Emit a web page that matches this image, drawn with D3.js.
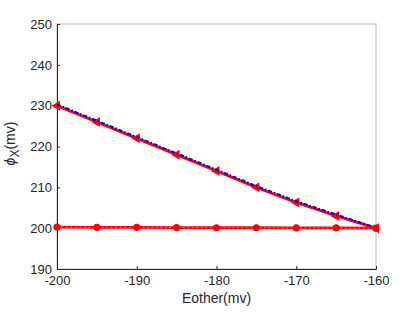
<!DOCTYPE html>
<html>
<head>
<meta charset="utf-8">
<script src="https://cdn.jsdelivr.net/npm/d3@7"></script>
<style>
body { margin:0; background:#fff; }
text { font-family: "Liberation Sans", Arial, sans-serif; }
</style>
</head>
<body>
<svg id="graph1"></svg>
<script>
var eother = [-200, -195, -190, -185, -180, -175, -170, -165, -160]
var phiTri = [230, 226, 222, 218, 214, 210, 206.3, 203, 200]
var phiBlue = [230.3, 226.3, 222.3, 218.3, 214.3, 210.3, 206.6, 203.3, 200.1]
var phiCirc = [200.25, 200.2, 200.2, 200.15, 200.1, 200.1, 200.05, 200.05, 200]
var xTicks = [-200, -190, -180, -170, -160]
var yTicks = [190, 200, 210, 220, 230, 240, 250]

var screen = {width:415, height:312}
var margins = {top:24, bottom:43, left:57, right:39}
var width = screen.width - margins.left - margins.right
var height = screen.height - margins.top - margins.bottom

var svg = d3.select("#graph1")
    .attr("width", screen.width)
    .attr("height", screen.height)

var g = svg.append("g")
    .attr("transform", "translate(" + margins.left + "," + margins.top + ")")

var xScale = d3.scaleLinear().domain([-200, -160]).range([0, width])
var yScale = d3.scaleLinear().domain([190, 250]).range([height, 0])

// box
g.append("rect")
    .attr("width", width).attr("height", height)
    .attr("fill", "none").attr("stroke", "#bdbdbd").attr("stroke-width", 1)

var fmt = function(d) { return String(d) }
var xAxis = d3.axisBottom(xScale).tickValues(xTicks).tickFormat(fmt).tickSizeInner(-3).tickSizeOuter(0).tickPadding(7)
var yAxis = d3.axisLeft(yScale).tickValues(yTicks).tickFormat(fmt).tickSizeInner(-3).tickSizeOuter(0).tickPadding(5)

g.append("g").attr("transform", "translate(0," + height + ")").call(xAxis)
g.append("g").call(yAxis)
g.selectAll(".domain").attr("stroke", "#262626")
g.selectAll(".tick line").attr("stroke", "#262626")
g.selectAll(".tick text").attr("fill", "#262626").style("font-size", "13px")

var pts = function(vals) { return eother.map(function(e, i) { return [e, vals[i]] }) }
var line = d3.line().x(function(d) { return xScale(d[0]) }).y(function(d) { return yScale(d[1]) })

// triangles series
g.append("path").datum(pts(phiTri))
    .attr("d", line).attr("fill", "none").attr("stroke", "red").attr("stroke-width", 2.8)

g.selectAll(".tri").data(pts(phiTri)).enter().append("path")
    .attr("class", "tri")
    .attr("transform", function(d) { return "translate(" + xScale(d[0]) + "," + yScale(d[1]) + ")" })
    .attr("d", "M-5.5,0L3,-5L3,5Z")
    .attr("fill", "red")

// blue dash-dot
g.append("path").datum(pts(phiBlue))
    .attr("d", line).attr("fill", "none").attr("stroke", "#0000ff")
    .attr("stroke-width", 2.2).attr("stroke-dasharray", "4,2,1.5,2")

// circles series
g.append("path").datum(pts(phiCirc))
    .attr("d", line).attr("fill", "none").attr("stroke", "red").attr("stroke-width", 2.8)
g.append("path").datum(pts(phiCirc))
    .attr("d", line).attr("fill", "none").attr("stroke", "#ff9a9a")
    .attr("stroke-width", 0.8).attr("stroke-dasharray", "1.5,3")

g.selectAll(".circ").data(pts(phiCirc)).enter().append("circle")
    .attr("class", "circ")
    .attr("cx", function(d) { return xScale(d[0]) })
    .attr("cy", function(d) { return yScale(d[1]) })
    .attr("r", 3.6)
    .attr("fill", "red")

// labels
svg.append("text")
    .attr("x", margins.left + width / 2).attr("y", 303)
    .attr("text-anchor", "middle").attr("fill", "#262626").style("font-size", "14px")
    .text("Eother(mv)")

var yl = svg.append("text")
    .attr("transform", "translate(15," + (margins.top + height / 2 - 3) + ") rotate(-90)")
    .attr("text-anchor", "middle").attr("fill", "#262626").style("font-size", "14px")
yl.append("tspan").style("font-style", "italic").text("\u03d5")
yl.append("tspan").attr("dy", 4).style("font-size", "12px").text("X")
yl.append("tspan").attr("dy", -4).text("(mv)")
</script>
</body>
</html>
